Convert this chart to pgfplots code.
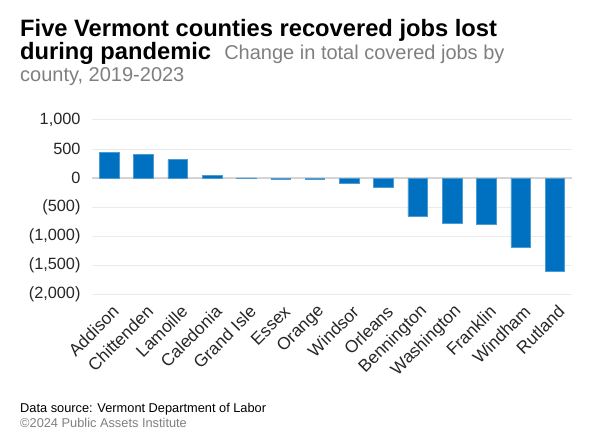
\documentclass[border=0pt]{standalone}
\usepackage{pgfplots}
\pgfplotsset{compat=1.18}
\usepackage{fontspec}
\setmainfont{Liberation Sans}
\definecolor{barblue}{HTML}{0070C0}
\definecolor{subgray}{HTML}{7F7F7F}
\definecolor{gridgray}{HTML}{EBEBEB}
\definecolor{zerogray}{HTML}{D4D4D4}
\definecolor{ticktext}{HTML}{262626}
\pgfplotstableread{
idx value
0 448
1 414
2 316
3 45
4 5
5 -24
6 -20
7 -93
8 -162
9 -655
10 -783
11 -793
12 -1190
13 -1610
}\jobsdata
\begin{document}
\begin{tikzpicture}[x=1bp,y=1bp]
\path (0,0) rectangle (600,448);
\node[anchor=base west,inner sep=0] at (20,411) {\fontsize{23.7bp}{26bp}\selectfont\bfseries Five Vermont counties recovered jobs lost};
\node[anchor=base west,inner sep=0] at (20,388) {\fontsize{23.7bp}{26bp}\selectfont\bfseries during pandemic\ \ {\mdseries\fontsize{20bp}{24bp}\selectfont\color{subgray}Change in total covered jobs by}};
\node[anchor=base west,inner sep=0,text=subgray] at (20,366) {\fontsize{20bp}{24bp}\selectfont county, 2019-2023};
\begin{axis}[
  at={(92bp,153.7bp)}, anchor=south west,
  scale only axis, width=480bp, height=174.3bp,
  xmin=-0.5, xmax=13.5, ymin=-2000, ymax=1000,
  axis line style={draw=none},
  major tick length=0pt,
  xtick=data,
  xticklabels={Addison,Chittenden,Lamoille,Caledonia,Grand Isle,Essex,Orange,Windsor,Orleans,Bennington,Washington,Franklin,Windham,Rutland},
  ytick={-2000,-1500,-1000,-500,0,500,1000},
  yticklabels={{(2,000)},{(1,500)},{(1,000)},{(500)},{0},{500},{1,000}},
  ymajorgrids, major grid style={draw=gridgray, line width=1bp},
  extra y ticks={0}, extra y tick labels={},
  extra y tick style={grid=major, major grid style={draw=zerogray, line width=1.2bp}},
  ticklabel style={text=ticktext},
  yticklabel style={font=\fontsize{16.3bp}{18bp}\selectfont, xshift=-8bp},
  xticklabel style={font=\fontsize{17.3bp}{19bp}\selectfont, xshift=9bp, yshift=-12bp, rotate=45, anchor=east},
  clip=false,
]
\addplot[ybar, bar width=19.5bp, fill=barblue, draw=barblue!70!white, line width=0.5bp] table[x=idx,y=value] {\jobsdata};
\end{axis}
\node[anchor=base west,inner sep=0,text=black] at (20,35) {\fontsize{12.8bp}{15bp}\selectfont Data source: Vermont Department of Labor};
\node[anchor=base west,inner sep=0,text=subgray] at (20,20) {\fontsize{12.8bp}{15bp}\selectfont ©2024 Public Assets Institute};
\end{tikzpicture}
\end{document}
